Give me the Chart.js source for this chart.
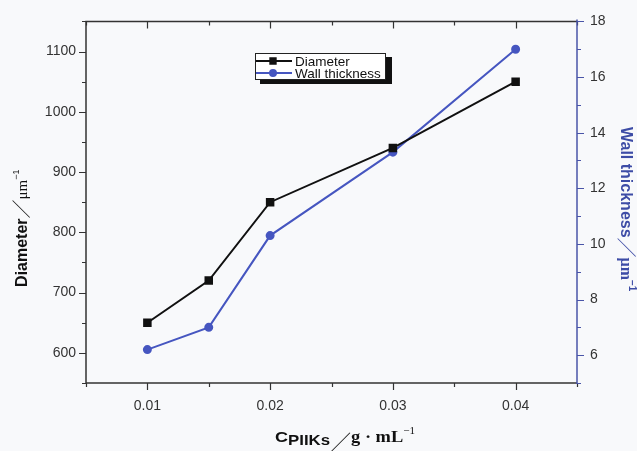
<!DOCTYPE html>
<html>
<head>
<meta charset="utf-8">
<script src="https://cdn.jsdelivr.net/npm/chart.js@4.4.0/dist/chart.umd.min.js"></script>
<style>
  html, body { margin: 0; padding: 0; background: #f8f9fb; }
  #wrap { width: 637px; height: 451px; position: relative; }
</style>
</head>
<body>
<div id="wrap"><canvas id="chart"></canvas></div>
<script>
// data
var concentrations = [0.01, 0.015, 0.02, 0.03, 0.04];
var diameter = [650, 720, 850, 940, 1050];
var wallThickness = [6.2, 7.0, 10.3, 13.3, 17.0];

// labelled (major) ticks
var xTickLabels = ['0.01', '0.02', '0.03', '0.04'];
var diameterTicks = [600, 700, 800, 900, 1000, 1100];
var wallTicks = [6, 8, 10, 12, 14, 16, 18];

var BLACK = '#111111';
var BLUE = '#4656c0';
var AXIS_BLUE = '#4a55a8';
var TICK_FONT = { family: 'Liberation Sans, Arial, sans-serif', size: 14 };

function findLabel(list, v) {
  for (var i = 0; i < list.length; i++) {
    if (Math.abs(parseFloat(list[i]) - v) < 1e-9) return String(list[i]);
  }
  return '';
}

function toPoints(xs, ys) {
  var pts = [];
  for (var i = 0; i < xs.length; i++) pts.push({ x: xs[i], y: ys[i] });
  return pts;
}

// draws a row of text pieces (different fonts / offsets / widths) centred on x,y
function drawParts(ctx, parts, x, y, angle, color) {
  ctx.save();
  ctx.translate(x, y);
  ctx.rotate(angle);
  ctx.fillStyle = color;
  ctx.textBaseline = 'alphabetic';
  var total = 0;
  parts.forEach(function (p) {
    ctx.font = p.font;
    p.w = ctx.measureText(p.t).width * (p.sx || 1) + (p.gap || 0);
    total += p.w;
  });
  var cx = -total / 2;
  parts.forEach(function (p) {
    ctx.save();
    ctx.font = p.font;
    ctx.translate(cx, p.dy || 0);
    ctx.scale(p.sx || 1, 1);
    ctx.fillText(p.t, 0, 0);
    ctx.restore();
    cx += p.w;
  });
  ctx.restore();
}

var framePlugin = {
  id: 'frame',
  afterDraw: function (chart) {
    var ctx = chart.ctx, a = chart.chartArea;
    var sx = chart.scales.x, sy = chart.scales.y, sy2 = chart.scales.y2;
    ctx.save();
    ctx.lineWidth = 1.5;

    // box: left, top, bottom dark; right axis blue
    ctx.strokeStyle = '#333333';
    ctx.beginPath();
    ctx.moveTo(a.right, a.top);
    ctx.lineTo(a.left, a.top);
    ctx.lineTo(a.left, a.bottom);
    ctx.lineTo(a.right, a.bottom);
    ctx.stroke();

    // x ticks: bottom outward, top inward
    ctx.lineWidth = 1.2;
    ctx.beginPath();
    sx.ticks.forEach(function (t) {
      var px = Math.round(sx.getPixelForValue(t.value)) + 0.5;
      var len = findLabel(xTickLabels, t.value) ? 7 : 4;
      ctx.moveTo(px, a.bottom); ctx.lineTo(px, a.bottom + len);
      ctx.moveTo(px, a.top); ctx.lineTo(px, a.top + len);
    });
    // left y ticks outward
    sy.ticks.forEach(function (t) {
      var py = Math.round(sy.getPixelForValue(t.value)) + 0.5;
      var len = findLabel(diameterTicks, t.value) ? 7 : 4;
      ctx.moveTo(a.left, py); ctx.lineTo(a.left - len, py);
    });
    ctx.stroke();

    // right axis in blue
    ctx.strokeStyle = AXIS_BLUE;
    ctx.lineWidth = 1.5;
    ctx.beginPath();
    ctx.moveTo(a.right, a.top - 2);
    ctx.lineTo(a.right, a.bottom + 1);
    ctx.stroke();
    ctx.lineWidth = 1.2;
    ctx.beginPath();
    sy2.ticks.forEach(function (t) {
      var py = Math.round(sy2.getPixelForValue(t.value)) + 0.5;
      var len = findLabel(wallTicks, t.value) ? 7 : 4;
      ctx.moveTo(a.right, py); ctx.lineTo(a.right + len, py);
    });
    ctx.stroke();

    // axis titles
    var sans = 'Liberation Sans, Arial, sans-serif';
    var serif = 'Liberation Serif, Times New Roman, serif';
    var slash = 'Noto Sans CJK SC, sans-serif';
    drawParts(ctx, [
      { t: 'Diameter', font: 'bold 16px ' + sans },
      { t: '／', font: '19px ' + slash, dy: 2 },
      { t: 'μm', font: '15px ' + serif },
      { t: '−1', font: '9px ' + sans, dy: -8 }
    ], 27, (a.top + a.bottom) / 2 + 26, -Math.PI / 2, BLACK);

    drawParts(ctx, [
      { t: 'Wall thickness', font: 'bold 16px ' + sans },
      { t: '／', font: '20px ' + slash, dy: 2 },
      { t: 'μm', font: 'bold 16px ' + serif },
      { t: '−1', font: 'bold 10px ' + sans, dy: -8 }
    ], 621, (a.top + a.bottom) / 2 + 7, Math.PI / 2, '#3d4ca6');

    drawParts(ctx, [
      { t: 'C', font: 'bold 15px ' + sans, sx: 1.2 },
      { t: 'PIIKs', font: 'bold 14px ' + sans, sx: 1.2, dy: 3 },
      { t: '／', font: '21px ' + slash, dy: 8 },
      { t: 'g · mL', font: 'bold 16px ' + serif, sx: 1.15 },
      { t: '−1', font: '11px ' + serif, dy: -8 }
    ], 345, 442, 0, BLACK);

    // legend box with shadow
    var lx = 255, ly = 53, lw = 130, lh = 26;
    ctx.fillStyle = '#111111';
    ctx.fillRect(lx + 5, ly + 4, lw + 2, lh + 1);
    ctx.fillStyle = '#ffffff';
    ctx.fillRect(lx, ly, lw, lh);
    ctx.strokeStyle = '#222222';
    ctx.lineWidth = 1;
    ctx.strokeRect(lx + 0.5, ly + 0.5, lw, lh);
    chart.data.datasets.forEach(function (ds, i) {
      var ry = ly + 8 + i * 12;
      ctx.strokeStyle = ds.borderColor;
      ctx.lineWidth = 2;
      ctx.beginPath();
      ctx.moveTo(lx + 1, ry); ctx.lineTo(lx + 37, ry);
      ctx.stroke();
      Chart.helpers.drawPoint(ctx, {
        pointStyle: ds.pointStyle, radius: ds.pointStyle === 'rect' ? 3.8 : 3, rotation: 0, borderWidth: 1
      }, lx + 18, ry);
      ctx.fillStyle = ds.pointBackgroundColor;
      ctx.fill();
      ctx.fillStyle = BLACK;
      ctx.font = '13.5px ' + sans;
      ctx.textBaseline = 'middle';
      ctx.fillText(ds.label, lx + 40, ry + 1);
    });
    ctx.restore();
  }
};

var ctx = document.getElementById('chart').getContext('2d');
var chart = new Chart(ctx, {
  type: 'line',
  data: {
    datasets: [{
      label: 'Diameter',
      data: toPoints(concentrations, diameter),
      yAxisID: 'y',
      borderColor: BLACK,
      backgroundColor: BLACK,
      pointBackgroundColor: BLACK,
      pointBorderColor: BLACK,
      pointStyle: 'rect',
      pointRadius: 4.6,
      borderWidth: 2,
      tension: 0
    }, {
      label: 'Wall thickness',
      data: toPoints(concentrations, wallThickness),
      yAxisID: 'y2',
      borderColor: BLUE,
      backgroundColor: BLUE,
      pointBackgroundColor: BLUE,
      pointBorderColor: BLUE,
      pointStyle: 'circle',
      pointRadius: 3.5,
      borderWidth: 2,
      tension: 0
    }]
  },
  options: {
    responsive: true,
    maintainAspectRatio: false,
    animation: false,
    layout: { padding: { top: 20, left: 0, right: 0, bottom: 0 } },
    plugins: {
      legend: { display: false },
      tooltip: { enabled: false }
    },
    scales: {
      x: {
        type: 'linear',
        min: 0.005,
        max: 0.045,
        grid: { display: false, drawTicks: false },
        border: { display: false },
        ticks: {
          stepSize: 0.005,
          autoSkip: false,
          maxRotation: 0,
          padding: 15,
          color: '#333333',
          font: TICK_FONT,
          callback: function (v) { return findLabel(xTickLabels, v); }
        },
        afterFit: function (s) { s.height = 68; }
      },
      y: {
        position: 'left',
        min: 550,
        max: 1150,
        grid: { display: false, drawTicks: false },
        border: { display: false },
        ticks: {
          stepSize: 50,
          autoSkip: false,
          padding: 10,
          color: '#333333',
          font: TICK_FONT,
          callback: function (v) { return findLabel(diameterTicks, v); }
        },
        afterFit: function (s) { s.width = 86; }
      },
      y2: {
        position: 'right',
        min: 5,
        max: 18,
        grid: { display: false, drawTicks: false },
        border: { display: false },
        ticks: {
          stepSize: 1,
          autoSkip: false,
          padding: 13,
          color: '#333333',
          font: TICK_FONT,
          callback: function (v) { return findLabel(wallTicks, v); }
        },
        afterFit: function (s) { s.width = 60; }
      }
    }
  },
  plugins: [framePlugin]
});
</script>
</body>
</html>
